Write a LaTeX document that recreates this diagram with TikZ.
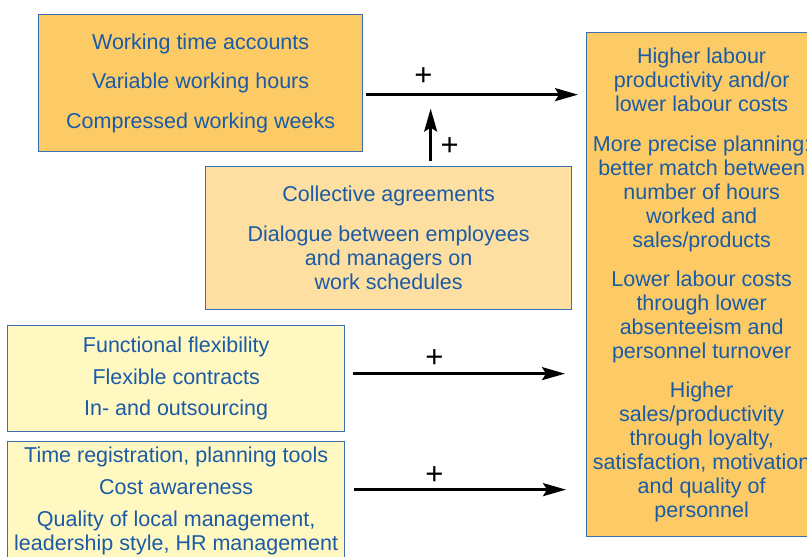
\documentclass[tikz,border=0pt]{standalone}
\usepackage{fontspec}
\setmainfont{Liberation Sans}
\usetikzlibrary{arrows.meta,calc}
\definecolor{fillA}{HTML}{FCCB66}
\definecolor{fillB}{HTML}{FDDFA1}
\definecolor{fillC}{HTML}{FFF8C1}
\definecolor{bordercol}{HTML}{3A6DB5}
\definecolor{textcol}{HTML}{1B5BA6}
\begin{document}
\begin{tikzpicture}[x=1pt,y=-1pt,
  box/.style={draw=bordercol, line width=1.3pt, rectangle, anchor=north west, inner sep=0pt,
    align=center, text=textcol, font=\fontsize{21.5}{24}\selectfont},
  arr/.style={line width=2.4pt, -{Stealth[length=23pt,width=13pt,inset=4pt]}},
  plus/.style={font=\fontsize{31}{31}\selectfont, inner sep=0pt}]
\clip (0,0) rectangle (807,557);
\fill[white] (0,0) rectangle (807,557);
\node[box, fill=fillA, minimum width=324pt, minimum height=137pt] (b1) at (38,14)
  {Working time accounts\\[15.5pt]Variable working hours\\[15.5pt]Compressed working weeks};
\node[box, fill=fillB, minimum width=366pt, minimum height=143pt] (b2) at (205,166)
  {Collective agreements\\[16pt]Dialogue between employees\\and managers on\\work schedules};
\node[box, fill=fillC, minimum width=337pt, minimum height=106pt] (b3) at (7,325)
  {Functional flexibility\\[7.5pt]Flexible contracts\\[7.5pt]In- and outsourcing};
\node[box, fill=fillC, minimum width=337pt, minimum height=119pt] (b4) at (7,441)
  {Time registration, planning tools\\[8pt]Cost awareness\\[8pt]Quality of local management,\\leadership style, HR management};
\node[box, fill=fillA, minimum width=230pt, minimum height=504pt] (R) at (586,32)
  {Higher labour\\productivity and/or\\lower labour costs\\[16pt]More precise planning:\\better match between\\number of hours\\worked and\\sales/products\\[15pt]Lower labour costs\\through lower\\absenteeism and\\personnel turnover\\[15pt]Higher\\sales/productivity\\through loyalty,\\satisfaction, motivation\\and quality of\\personnel};
% arrow 1
\path (b1.east) ++(3,11.5) coordinate (p1s);
\draw[arr, shorten >=8pt] (p1s) -- (p1s -| R.west);
\node[plus] (pl1) at ($(p1s)+(57,-18)$) {+};
% vertical arrow
\path (b2.north) ++(42,0) coordinate (p2s);
\draw[arr, shorten <=5pt, shorten >=14pt] (p2s) -- (p2s |- p1s);
\node[plus] (pl2) at ($(p2s)+(19,-19)$) {+};
% arrow 3
\path (b3.east) ++(0,-5) coordinate (p3s);
\draw[arr, shorten <=8pt, shorten >=21pt] (p3s) -- (p3s -| R.west);
\node[plus] (pl3) at ($(p3s)+(89,-15)$) {+};
% arrow 4
\path (b4.east) ++(0,-11.5) coordinate (p4s);
\draw[arr, shorten <=9pt, shorten >=20pt] (p4s) -- (p4s -| R.west);
\node[plus] (pl4) at ($(p4s)+(89,-14)$) {+};
\end{tikzpicture}
\end{document}
